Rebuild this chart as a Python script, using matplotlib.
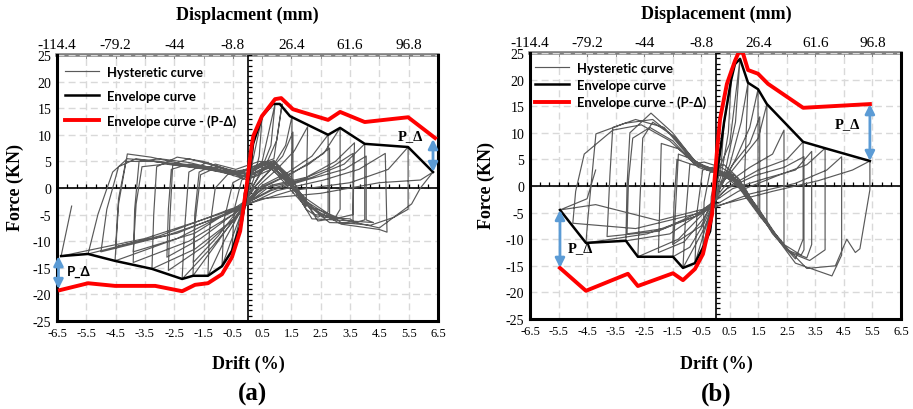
import numpy as np
import matplotlib
matplotlib.use('Agg')
import matplotlib.pyplot as plt

plt.rcParams['font.family'] = ['Liberation Serif', 'DejaVu Serif']

# ---- panel (a) data ----
env_a_drift = [-6.36, -5.44, -4.52, -3.26, -2.23, -1.86, -1.35, -0.87, -0.53, -0.19, 0.0,
               0.19, 0.5, 0.87, 1.1, 1.45, 2.75, 3.16, 4.0, 5.48, 6.33]
env_a_force = [-12.8, -12.4, -13.7, -15.2, -17.1, -16.5, -16.5, -14.7, -11.8, -6.2, 0.0,
               8.3, 13.5, 15.8, 15.8, 13.5, 10.0, 11.3, 8.3, 7.7, 3.0]
pd_a_drift = [-6.4, -5.44, -4.52, -3.15, -2.23, -1.79, -1.35, -0.87, -0.53, -0.25, -0.03,
              0.14, 0.2, 0.49, 0.94, 1.15, 1.55, 2.75, 3.16, 4.0, 5.48, 6.4]
pd_a_force = [-19.2, -17.9, -18.4, -18.4, -19.4, -18.2, -17.9, -16.2, -13.0, -8.1, 0.4,
              7.9, 9.8, 13.5, 16.7, 16.9, 14.8, 12.8, 14.3, 12.4, 13.3, 9.4]

hyst_a = [
    (0.0, 0.0), (0.19, 8.3), (0.12, 2.0), (0.0, -1.5), (-0.19, -6.2), (-0.12, -1.0), (0.0, 0.5),
    (0.5, 13.5), (0.4, 6.0), (0.2, 1.5), (0.0, -1.0), (-0.2, -4.5), (-0.53, -11.8), (-0.45, -4.0),
    (-0.2, 1.5), (0.1, 2.5),
    (0.5, 5.0), (0.94, 15.8), (0.8, 8.0), (0.4, 2.5), (0.05, -1.0), (-0.3, -6.0), (-0.87, -14.7),
    (-0.8, -6.0), (-0.5, 1.0), (0.0, 2.5), (0.4, 4.5),
    (0.9, 5.5), (1.18, 15.8), (1.0, 9.0), (0.6, 4.0), (0.2, 0.5), (-0.2, -4.0), (-0.8, -10.0),
    (-1.35, -16.5), (-1.3, -8.0), (-1.1, 0.0), (-0.6, 3.0), (0.0, 3.5), (0.6, 4.8), (1.1, 3.5),
    (1.5, 1.0), (1.52, 13.5), (1.3, 8.0), (0.8, 3.5), (0.3, 0.5), (-0.3, -4.5), (-1.0, -10.0),
    (-1.86, -16.5), (-1.8, -7.0), (-1.6, 2.5), (-1.0, 4.0), (-0.3, 3.0), (0.4, 4.5), (0.9, 5.0),
    (1.5, 2.0),
    (1.55, -1.0), (1.55, 10.5), (1.2, 6.0), (0.7, 3.0), (0.2, 0.0), (-0.3, -4.0), (-1.0, -9.0),
    (-1.85, -14.0), (-1.8, -5.0), (-1.65, 3.0), (-1.1, 4.5), (-0.4, 3.5), (0.4, 5.0), (1.0, 4.5),
    (1.6, 1.0),
    (2.0, -3.5), (2.05, 11.5), (1.6, 7.0), (1.0, 3.5), (0.4, 0.5), (-0.3, -5.0), (-1.2, -11.0),
    (-2.23, -17.1), (-2.15, -8.0), (-2.0, 3.0), (-1.4, 4.8), (-0.7, 3.5), (0.0, 2.5), (0.7, 5.0),
    (1.3, 2.5), (2.0, -4.0), (2.4, -5.5),
    (2.75, -4.5), (2.75, 10.0), (2.2, 6.0), (1.4, 3.0), (0.5, 0.5), (-0.4, -5.5), (-1.5, -11.0),
    (-2.7, -15.5), (-2.65, -6.0), (-2.55, 4.5), (-2.0, 5.5), (-1.0, 4.0), (-0.2, 2.0), (0.6, 5.0),
    (1.4, 1.5), (2.2, -5.8), (3.0, -6.0),
    (2.8, -5.0), (2.8, 7.5), (2.1, 4.5), (1.2, 2.0), (0.4, 0.0), (-0.5, -5.0), (-1.6, -9.5),
    (-2.75, -13.0), (-2.7, -4.0), (-2.6, 3.5), (-2.0, 4.5), (-1.0, 3.5), (0.0, 2.0), (0.7, 4.0),
    (1.5, 0.5), (2.3, -5.0), (3.0, -5.5),
    (3.16, -4.0), (3.16, 11.3), (2.6, 6.5), (1.6, 3.0), (0.5, 0.0), (-0.5, -6.0), (-1.8, -11.5),
    (-3.26, -15.2), (-3.2, -5.0), (-3.1, 4.0), (-2.4, 5.8), (-1.5, 5.0), (-0.5, 3.0), (0.3, 3.5),
    (0.9, 5.2), (1.7, 0.0), (2.4, -6.2), (3.2, -5.5),
    (3.6, -5.0), (3.65, 8.5), (3.0, 5.0), (2.0, 2.0), (0.8, 0.5), (-0.5, -5.0), (-2.0, -10.0),
    (-3.9, -14.0), (-3.85, -4.0), (-3.7, 5.0), (-3.0, 5.5), (-2.0, 4.8), (-1.0, 3.5), (0.0, 2.0),
    (0.8, 4.5), (1.8, -1.5), (2.6, -5.5), (3.5, -5.8),
    (3.6, -6.2), (3.6, 6.5), (2.9, 4.0), (1.8, 1.5), (0.6, 0.0), (-0.5, -4.0), (-1.8, -8.5),
    (-3.9, -12.0), (-3.8, -3.0), (-3.6, 4.0), (-2.8, 4.5), (-1.8, 3.8), (-0.8, 3.0), (0.2, 2.8),
    (0.9, 4.0), (1.9, -2.5), (2.8, -6.5), (3.6, -6.6),
    (4.0, -6.0), (4.0, 8.3), (3.3, 4.5), (2.2, 2.0), (0.9, 0.0), (-0.6, -4.5), (-2.4, -9.5),
    (-4.52, -13.7), (-4.4, -3.0), (-4.1, 6.4), (-3.3, 5.8), (-2.2, 4.5), (-1.0, 3.8), (0.1, 2.5),
    (0.9, 4.8), (2.0, -2.5), (3.0, -6.0), (4.3, -6.5),
    (4.05, -6.0), (4.05, 6.0), (3.3, 3.5), (2.0, 1.5), (0.8, -0.5), (-0.6, -4.5), (-2.4, -8.5),
    (-4.5, -11.0), (-4.4, -2.0), (-4.15, 5.0), (-3.2, 5.0), (-2.0, 4.0), (-0.8, 3.2), (0.2, 2.0),
    (1.0, 4.0), (2.1, -3.5), (3.2, -6.8), (4.5, -7.8),
    (4.76, -8.3), (4.7, 6.5), (3.8, 3.5), (2.6, 1.5), (1.0, -0.5), (-0.7, -5.0), (-2.8, -9.0),
    (-5.0, -12.0), (-4.8, -4.0), (-4.4, 4.0), (-3.8, 5.5), (-2.6, 4.5), (-1.3, 3.8), (0.0, 1.5),
    (0.8, 4.2), (2.0, -2.0), (3.2, -6.5), (4.2, -7.0),
    (5.0, -5.5), (5.48, -4.0), (5.48, 7.7), (4.8, 3.5), (3.5, 1.0), (1.5, -0.5), (-0.6, -4.0),
    (-3.0, -9.0), (-5.44, -12.4), (-5.1, -4.9), (-4.6, 3.0), (-4.1, 5.5), (-3.0, 5.0), (-1.8, 4.0),
    (-0.5, 2.5), (0.7, 4.5), (1.9, -3.0), (3.3, -6.0), (4.5, -7.5), (5.6, -3.0), (5.9, 0.0),
    (6.33, 3.0), (5.9, 1.5), (4.5, 1.0), (2.5, -1.0), (0.5, -2.0), (-1.0, -5.0), (-3.5, -9.5),
    (-6.36, -12.8), (-6.0, -3.4),
]

# ---- panel (b) data ----
env_b_drift = [-5.45, -4.54, -3.14, -2.72, -1.49, -1.14, -0.72, -0.44, -0.19, 0.0,
               0.3, 0.55, 0.68, 0.86, 1.14, 1.49, 1.8, 3.07, 3.84, 5.41]
env_b_force = [-4.5, -10.7, -10.3, -13.3, -13.3, -15.4, -14.5, -11.6, -8.5, 0.0,
               12.0, 20.0, 22.9, 23.9, 19.4, 18.2, 15.4, 8.3, 7.1, 4.7]
pd_b_drift = [-5.45, -4.54, -3.07, -2.72, -1.49, -1.14, -0.72, -0.44, -0.26, -0.12, -0.05,
              0.05, 0.16, 0.4, 0.68, 0.82, 0.96, 1.14, 1.49, 1.84, 3.07, 5.41]
pd_b_force = [-15.4, -19.7, -16.5, -18.8, -16.4, -17.7, -15.6, -12.8, -8.6, -5.3, 0.0,
              6.4, 12.6, 19.2, 23.5, 25.2, 25.0, 21.8, 21.1, 19.2, 14.7, 15.4]

hyst_b = [
    (0.0, 0.0), (0.3, 12.0), (0.2, 4.0), (0.0, -1.0), (-0.19, -8.5), (-0.15, -2.0), (0.0, 1.5),
    (0.55, 20.0), (0.45, 10.0), (0.2, 2.0), (-0.1, -3.0), (-0.44, -11.6), (-0.4, -3.0),
    (-0.2, 2.5), (0.1, 3.0),
    (0.5, 8.0), (0.86, 23.9), (0.7, 12.0), (0.35, 3.0), (0.0, -2.0), (-0.3, -7.0), (-0.72, -14.5),
    (-0.65, -5.0), (-0.45, 3.0), (-0.1, 3.5), (0.3, 4.0), (0.7, 2.0),
    (1.0, -1.0), (1.14, 19.4), (0.9, 12.0), (0.5, 4.0), (0.1, -1.0), (-0.4, -8.0), (-1.14, -15.4),
    (-1.05, -6.0), (-0.9, 4.0), (-0.4, 4.5), (0.2, 3.5), (0.8, 1.5), (1.3, -3.0),
    (1.49, -4.0), (1.49, 18.2), (1.2, 11.0), (0.7, 5.0), (0.2, 0.0), (-0.4, -7.0), (-0.9, -11.5),
    (-1.49, -13.3), (-1.4, -4.0), (-1.3, 6.0), (-0.8, 5.0), (-0.2, 3.0), (0.4, 2.5), (1.0, 0.0),
    (1.6, -6.0),
    (1.55, -5.0), (1.55, 13.0), (1.2, 8.0), (0.6, 4.0), (0.1, -0.5), (-0.5, -7.5), (-1.5, -11.0),
    (-1.45, -3.0), (-1.35, 5.0), (-0.8, 4.0), (0.0, 3.0), (0.6, 2.0), (1.3, -3.5), (1.7, -6.5),
    (1.8, -7.0), (1.8, 15.4), (1.5, 9.0), (0.9, 5.0), (0.3, 1.0), (-0.4, -6.0), (-1.1, -10.5),
    (-2.0, -12.5), (-1.95, -3.0), (-1.9, 8.0), (-1.3, 7.0), (-0.6, 4.0), (0.1, 3.0), (0.8, 1.0),
    (1.6, -5.0), (2.1, -9.0),
    (2.4, -11.0), (2.4, 10.5), (2.0, 6.0), (1.2, 3.5), (0.4, 0.5), (-0.4, -5.0), (-1.3, -10.0),
    (-2.72, -13.3), (-2.65, -3.0), (-2.55, 9.0), (-2.2, 12.0), (-1.5, 9.5), (-0.8, 5.0),
    (-0.2, 3.0), (0.5, 2.0), (1.3, -3.0), (2.0, -9.0), (2.8, -13.7),
    (3.07, -10.0), (3.07, 8.3), (2.5, 5.0), (1.5, 3.0), (0.5, 0.0), (-0.5, -5.0), (-1.6, -9.0),
    (-3.14, -10.3), (-3.1, 0.0), (-3.0, 10.0), (-2.26, 13.7), (-1.5, 10.0), (-0.7, 4.5),
    (0.0, 3.0), (0.6, 1.5), (1.5, -5.0), (2.4, -11.0), (3.0, -13.0),
    (3.1, -12.0), (3.1, 5.5), (2.4, 3.5), (1.4, 2.0), (0.4, -0.5), (-0.6, -5.5), (-1.8, -8.0),
    (-3.1, -9.0), (-3.05, 1.0), (-2.9, 9.0), (-2.3, 11.0), (-1.5, 8.5), (-0.8, 4.5), (0.0, 2.5),
    (0.8, 0.5), (1.7, -6.5), (2.5, -12.0), (3.2, -13.5),
    (3.37, -11.0), (3.37, 6.5), (2.8, 3.0), (1.8, 1.5), (0.6, -0.5), (-0.6, -5.0), (-2.0, -8.5),
    (-3.8, -9.5), (-3.7, 2.0), (-3.6, 11.0), (-2.8, 12.5), (-1.8, 11.0), (-1.0, 6.0), (-0.3, 3.0),
    (0.5, 2.0), (1.6, -6.0), (2.6, -12.5), (3.3, -14.0),
    (3.84, -12.0), (3.84, 7.1), (3.2, 4.0), (2.2, 2.0), (0.8, -1.0), (-0.6, -5.5), (-2.4, -9.0),
    (-4.54, -10.7), (-4.47, -6.0), (-4.19, 9.8), (-3.17, 11.8), (-2.2, 12.5), (-1.4, 9.0),
    (-0.6, 4.0), (0.1, 2.5), (0.9, 0.5), (1.9, -8.0), (2.8, -14.5), (4.08, -16.9),
    (4.42, -13.0), (4.42, 5.5), (3.9, 3.0), (2.8, 0.5), (1.2, -1.5), (-0.5, -5.0), (-2.8, -8.0),
    (-5.0, -7.0), (-4.9, -1.0), (-4.6, 6.0), (-3.6, 10.5), (-2.6, 11.5), (-1.6, 8.5), (-0.6, 3.5),
    (0.3, 2.0), (1.2, -2.0), (2.2, -10.0), (3.2, -15.5), (4.2, -15.0), (4.6, -10.0), (4.9, -12.5),
    (5.06, -11.8), (5.41, -0.7), (5.41, 4.7),
    (4.8, 3.0), (3.6, 1.0), (2.0, -1.0), (0.2, -3.5), (-2.0, -6.5), (-4.2, -3.5), (-5.45, -4.5),
    (-4.5, -2.4), (-4.2, 3.0),
]

drift_ticks = [-6.5, -5.5, -4.5, -3.5, -2.5, -1.5, -0.5, 0.5, 1.5, 2.5, 3.5, 4.5, 5.5, 6.5]
force_ticks = [-25, -20, -15, -10, -5, 0, 5, 10, 15, 20, 25]
disp_ticks = [-114.4, -79.2, -44, -8.8, 26.4, 61.6, 96.8]
disp_labels = ['-114.4', '-79.2', '-44', '-8.8', '26.4', '61.6', '96.8']
mm_per_drift = 17.6

GRAY = '#595959'
BLUE = '#5B9BD5'
W, H = 913, 410


def fx(px):
    return px / W


def fy(py):
    return 1 - py / H


def draw_panel(ax, hyst, env_x, env_y, pd_x, pd_y, legend_pos, legend_space):
    hx = [p[0] for p in hyst]
    hy = [p[1] for p in hyst]
    ax.set_xlim(-6.5, 6.5)
    ax.set_ylim(-25, 25)
    ax.set_xticks(drift_ticks)
    ax.set_xticklabels([str(t) for t in drift_ticks], fontsize=9)
    ax.set_yticks(force_ticks)
    ax.set_yticklabels([str(t) for t in force_ticks], fontsize=10)
    ax.tick_params(axis='both', length=0, pad=4)
    ax.grid(True, color='#D9D9D9', ls=(0, (5, 3)), lw=1.0)
    ax.set_axisbelow(True)

    # axes crossing at zero, with small tick marks
    ax.axhline(0, color='black', lw=1.2, zorder=2)
    ax.axvline(0, color='black', lw=1.2, zorder=2)
    xt = np.arange(-6.5, 6.5, 1 / 3)
    ax.plot(xt, np.zeros_like(xt), ls='none', marker=2, ms=3, mew=0.9, color='black', zorder=2)
    yt = np.arange(-25, 26, 1)
    ax.plot(np.zeros_like(yt), yt, ls='none', marker=1, ms=3, mew=0.9, color='black', zorder=2)

    ax.plot(hx, hy, color=GRAY, lw=0.85, zorder=3, label='Hysteretic curve')
    ax.plot(env_x, env_y, color='black', lw=1.8, zorder=4, label='Envelope curve')
    ax.plot(pd_x, pd_y, color='red', lw=2.8, zorder=5, label='Envelope curve - (P-\u0394)')

    for s in ['left', 'right', 'bottom']:
        ax.spines[s].set_color('black')
        ax.spines[s].set_linewidth(2.2)
    ax.spines['top'].set_visible(False)

    top = ax.secondary_xaxis('top', functions=(lambda d: d * mm_per_drift, lambda m: m / mm_per_drift))
    top.set_xticks(disp_ticks)
    top.set_xticklabels(disp_labels, fontsize=11)
    top.set_xticks(np.arange(-6.5, 6.6, 1) * mm_per_drift, minor=True)
    top.tick_params(axis='x', which='both', direction='in', length=3, color='#808080', pad=3)
    top.spines['top'].set_color('#808080')
    top.spines['top'].set_linewidth(2.6)

    leg = ax.legend(loc='upper left', bbox_to_anchor=legend_pos, frameon=False,
                    borderpad=0, borderaxespad=0, handlelength=2.6, handletextpad=0.6,
                    labelspacing=legend_space,
                    prop={'family': 'Lato', 'weight': 'bold', 'size': 9.4})
    leg.set_zorder(6)


def pdelta_arrow(ax, x, y0, y1):
    ax.annotate('', xy=(x, y1), xytext=(x, y0),
                arrowprops=dict(arrowstyle='<|-|>', color=BLUE, lw=2.0,
                                mutation_scale=14, shrinkA=0, shrinkB=0), zorder=7)


fig = plt.figure(figsize=(W / 100, H / 100), dpi=100)

ax_a = fig.add_axes([fx(57), fy(322), fx(381), 266 / H])
draw_panel(ax_a, hyst_a, env_a_drift, env_a_force, pd_a_drift, pd_a_force, (0.021, 0.96), 0.95)
pdelta_arrow(ax_a, -6.45, -12.8, -19.0)
pdelta_arrow(ax_a, 6.33, 9.2, 3.0)
ax_a.text(-5.75, -15.6, 'P_\u0394', family='Lato', weight='bold', fontsize=9.5,
          ha='center', va='center', zorder=8)
ax_a.text(5.55, 9.9, 'P_\u0394', weight='bold', fontsize=10.5, ha='center', va='center', zorder=8)

ax_b = fig.add_axes([fx(530), fy(320), fx(371), 266 / H])
draw_panel(ax_b, hyst_b, env_b_drift, env_b_force, pd_b_drift, pd_b_force, (0.0135, 0.967), 0.38)
pdelta_arrow(ax_b, -5.45, -4.5, -15.4)
pdelta_arrow(ax_b, 5.41, 4.7, 15.4)
ax_b.text(-4.75, -11.65, 'P_\u0394', weight='bold', fontsize=10.5, ha='center', va='center', zorder=8)
ax_b.text(4.61, 11.65, 'P_\u0394', weight='bold', fontsize=10.5, ha='center', va='center', zorder=8)

fig.text(fx(247), fy(15), 'Displacment (mm)', weight='bold', fontsize=13, ha='center', va='center')
fig.text(fx(716), fy(14), 'Displacement (mm)', weight='bold', fontsize=13, ha='center', va='center')
fig.text(fx(15), fy(188), 'Force (KN)', weight='bold', fontsize=13, rotation=90, ha='center', va='center')
fig.text(fx(486), fy(186), 'Force (KN)', weight='bold', fontsize=13, rotation=90, ha='center', va='center')
fig.text(fx(248), fy(364), 'Drift (%)', weight='bold', fontsize=13, ha='center', va='center')
fig.text(fx(716), fy(364), 'Drift (%)', weight='bold', fontsize=13, ha='center', va='center')
fig.text(fx(252), fy(394), '(a)', weight='bold', fontsize=18, ha='center', va='center')
fig.text(fx(716), fy(394), '(b)', weight='bold', fontsize=18, ha='center', va='center')

fig.savefig('out.png', dpi=100)
